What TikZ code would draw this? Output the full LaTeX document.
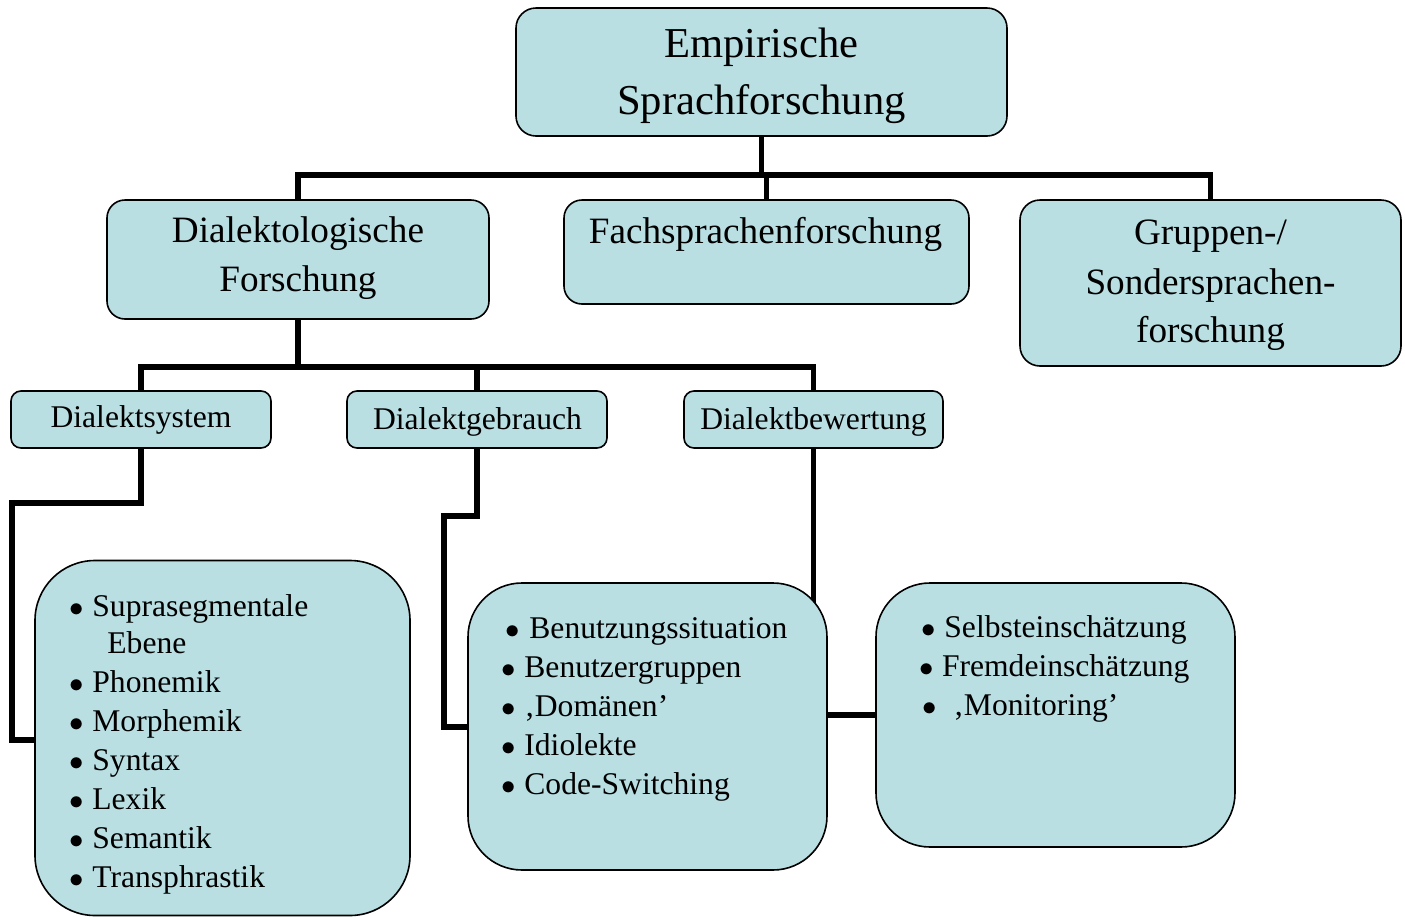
\documentclass[tikz,border=0pt]{standalone}
\usepackage{fontspec}
\setmainfont{Liberation Serif}
\definecolor{boxc}{RGB}{185,223,227}
\pgfdeclarelayer{bg}
\pgfsetlayers{bg,main}
\tikzset{
  box/.style={draw=black, fill=boxc, line width=0.8pt, inner sep=0pt, rectangle},
  conn/.style={draw=black, line width=2.9pt, line join=miter},
  tA/.style={anchor=base, inner sep=0pt, font=\fontsize{21.3}{25}\selectfont},
  tB/.style={anchor=base, inner sep=0pt, font=\fontsize{18.6}{22}\selectfont},
  tC/.style={anchor=base, inner sep=0pt, font=\fontsize{15.8}{19}\selectfont},
  tL/.style={anchor=base west, inner sep=0pt, font=\fontsize{15.8}{19}\selectfont},
}
\newcommand{\bul}[1]{\makebox[#1][l]{$\bullet$}}
\begin{document}
\begin{tikzpicture}[x=0.5pt,y=-0.5pt]
\useasboundingbox (0,0) rectangle (1405,917);
% boxes
\node[box, rounded corners=10pt, minimum width=245.5pt, minimum height=64pt] (top) at (761.5,72) {};
\node[box, rounded corners=9pt, minimum width=191pt, minimum height=59.5pt] (dia) at (298,259.5) {};
\node[box, rounded corners=9pt, minimum width=202.5pt, minimum height=52pt] (fach) at (766.5,252) {};
\node[box, rounded corners=10pt, minimum width=190.5pt, minimum height=83pt] (grup) at (1210.5,283) {};
\node[box, rounded corners=5pt, minimum width=130pt, minimum height=28.5pt] (sys) at (141,419.5) {};
\node[box, rounded corners=5pt, minimum width=130pt, minimum height=28.5pt] (geb) at (477,419.5) {};
\node[box, rounded corners=5pt, minimum width=129.5pt, minimum height=28.5pt] (bew) at (813.5,419.5) {};
\node[box, rounded corners=30pt, minimum width=187.5pt, minimum height=177.5pt] (L1) at (222.5,738) {};
\node[box, rounded corners=27pt, minimum width=179.5pt, minimum height=143.5pt] (L2) at (647.5,726.5) {};
\node[box, rounded corners=27pt, minimum width=179.5pt, minimum height=132pt] (L3) at (1055.5,715) {};
% connectors
\begin{pgfonlayer}{bg}
\coordinate (j1) at (761.5,175);
\draw[conn] (top.south) -- (j1);
\draw[conn] (dia.north) |- (grup.north |- j1) -- (grup.north);
\draw[conn] (fach.north) -- (fach.north |- j1);
\coordinate (j2) at (298,367);
\draw[conn] (dia.south) -- (j2);
\draw[conn] (sys.north) |- (bew.north |- j2) -- (bew.north);
\draw[conn] (geb.north) -- (geb.north |- j2);
\coordinate (k1) at (12,503);
\coordinate (k2) at (12,740);
\draw[conn] (sys.south) |- (k1) -- (k2) -- (L1.west |- k2);
\coordinate (k3) at (444,516);
\coordinate (k4) at (444,727);
\draw[conn] (geb.south) |- (k3) -- (k4) -- (L2.west |- k4);
\draw[conn] (bew.south) -- ([yshift=-20pt]bew.south |- L2.north);
\draw[conn] (L2.east |- L3.west) -- (L3.west);
\end{pgfonlayer}
% texts
\node[tA] (t1) at (761.5,57) {Empirische};
\node[tA] (t2) at (761.5,114) {Sprachforschung};
\node[tB] (t3) at (298,242) {Dialektologische};
\node[tB] (t4) at (298,291) {Forschung};
\node[tB] (t5) at (765.5,243) {Fachsprachenforschung};
\node[tB] (t6) at (1210.5,244) {Gruppen-/};
\node[tB] (t7) at (1210.5,294) {Sondersprachen-};
\node[tB] (t8) at (1210.5,342) {forschung};
\node[tC] (t9) at (141,427) {Dialektsystem};
\node[tC] (t10) at (477.5,429) {Dialektgebrauch};
\node[tC] (t11) at (813.5,429) {Dialektbewertung};
% list 1
\node[tL] (a1) at (69,616) {\bul{11.5pt}Suprasegmentale};
\node[tL] (a2) at (107,653) {Ebene};
\node[tL] (a3) at (69,692) {\bul{11.5pt}Phonemik};
\node[tL] (a4) at (69,731) {\bul{11.5pt}Morphemik};
\node[tL] (a5) at (69,770) {\bul{11.5pt}Syntax};
\node[tL] (a6) at (69,809) {\bul{11.5pt}Lexik};
\node[tL] (a7) at (69,848) {\bul{11.5pt}Semantik};
\node[tL] (a8) at (69,887) {\bul{11.5pt}Transphrastik};
% list 2
\node[tL] (b1) at (505,638) {\bul{12pt}Benutzungssituation};
\node[tL] (b2) at (501,677) {\bul{11.5pt}Benutzergruppen};
\node[tL] (b3) at (501,716) {\bul{11.5pt}‚Domänen’};
\node[tL] (b4) at (501,755) {\bul{11.5pt}Idiolekte};
\node[tL] (b5) at (501,794) {\bul{11.5pt}Code-Switching};
% list 3
\node[tL] (c1) at (921,637) {\bul{11.5pt}Selbsteinschätzung};
\node[tL] (c2) at (919,676) {\bul{11.3pt}Fremdeinschätzung};
\node[tL] (c3) at (922,715) {\bul{15.5pt}‚Monitoring’};
\end{tikzpicture}
\end{document}
